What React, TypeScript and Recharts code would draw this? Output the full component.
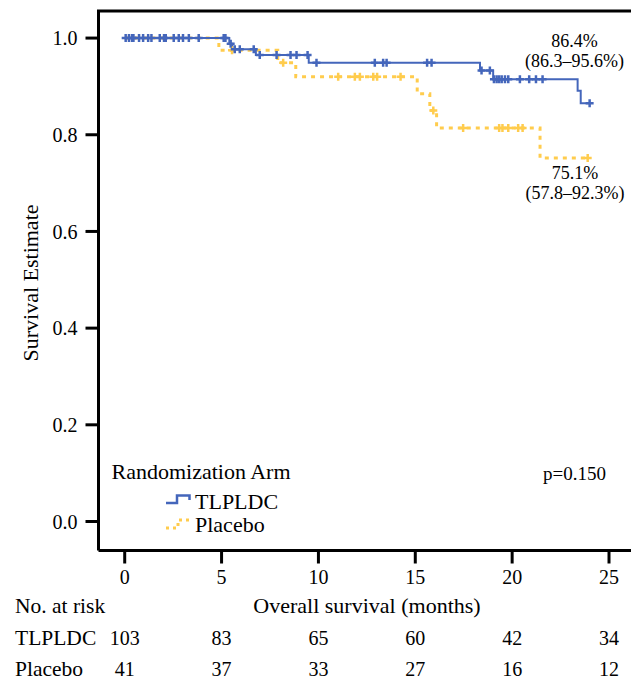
import React from 'react';
import { ComposedChart, Line, Scatter, XAxis, YAxis } from 'recharts';

const FONT = '"Liberation Serif", "Times New Roman", serif';
const BLUE = '#4466BB';
const GOLD = '#FFCC4D';

// Kaplan-Meier steps (time in months, survival estimate)
const tlpldcTimes = [0, 5.4, 5.55, 6.77, 9.5, 18.34, 19.02, 23.38, 23.54, 24.0];
const tlpldcSurv = [1, 0.988, 0.977, 0.965, 0.949, 0.933, 0.915, 0.891, 0.865, 0.865];
const placeboTimes = [0, 4.86, 7.9, 8.83, 15.1, 15.75, 16.1, 21.44, 23.9];
const placeboSurv = [1, 0.975, 0.949, 0.92, 0.885, 0.85, 0.814, 0.752, 0.752];

// censored observations
const tlpldcCensor = [
  0.05, 0.22, 0.38, 0.45, 0.74, 0.95, 1.21, 1.38, 1.81, 2.03, 2.12, 2.53, 2.79, 3.01, 3.31,
  3.82, 5.11, 5.2, 5.47, 5.68, 5.94, 6.66, 6.97, 7.84, 8.56, 8.87, 9.44, 9.9, 12.91, 13.34,
  13.52, 15.61, 15.84, 18.42, 18.85, 19.06, 19.2, 19.33, 19.46, 19.63, 19.8, 20.4, 20.88,
  21.23, 21.57, 24.0,
];
const placeboCensor = [
  5.54, 8.18, 11.02, 11.88, 12.14, 12.83, 13.03, 14.24, 15.93, 17.47, 19.33, 19.5, 19.8,
  20.31, 20.54, 23.9,
];

// number at risk table
const riskTimes = [0, 5, 10, 15, 20, 25];
const tlpldcRisk = [103, 83, 65, 60, 42, 34];
const placeboRisk = [41, 37, 33, 27, 16, 12];

const yTicks = [0, 0.2, 0.4, 0.6, 0.8, 1.0];

const survAt = (times: number[], surv: number[], t: number) => {
  let v = surv[0];
  times.forEach((tt, i) => {
    if (tt <= t) v = surv[i];
  });
  return v;
};

const tlpldcLine = tlpldcTimes.map((t, i) => ({ t, s: tlpldcSurv[i] }));
const placeboLine = placeboTimes.map((t, i) => ({ t, s: placeboSurv[i] }));
const tlpldcMarks = tlpldcCensor.map(t => ({ t, s: survAt(tlpldcTimes, tlpldcSurv, t) }));
const placeboMarks = placeboCensor.map(t => ({ t, s: survAt(placeboTimes, placeboSurv, t) }));

const Cross = ({ cx, cy, color, w }: any) => (
  <path d={`M${cx - 4},${cy}H${cx + 4}M${cx},${cy - 4}V${cy + 4}`} stroke={color} strokeWidth={w} fill="none" />
);

// x tick label plus the at-risk numbers underneath it
const RiskTick = ({ x, y, payload }: any) => {
  const i = riskTimes.indexOf(payload.value);
  return (
    <g fontFamily={FONT} fontSize={20} fill="#000" textAnchor="middle">
      <text x={x} y={y + 18}>{payload.value}</text>
      <text x={x} y={y + 79.5}>{tlpldcRisk[i]}</text>
      <text x={x} y={y + 110.5}>{placeboRisk[i]}</text>
    </g>
  );
};

export default function App() {
  return (
    <div style={{ position: 'absolute', left: 0, top: 0, width: 631, height: 682, overflow: 'hidden', background: '#fff' }}>
      <ComposedChart width={640} height={682} margin={{ top: 11, right: 0, bottom: 101.5, left: 0 }}>
        <XAxis
          type="number"
          dataKey="t"
          domain={[-1.353, 26.6]}
          ticks={riskTimes}
          allowDataOverflow
          height={30}
          tickSize={13}
          tickMargin={2}
          axisLine={{ stroke: '#000', strokeWidth: 3 }}
          tickLine={{ stroke: '#000', strokeWidth: 3 }}
          tick={<RiskTick />}
        />
        <YAxis
          type="number"
          dataKey="s"
          domain={[-0.06, 1.056]}
          ticks={yTicks}
          allowDataOverflow
          width={98.5}
          tickSize={13}
          tickMargin={8}
          tickFormatter={(v: number) => v.toFixed(1)}
          axisLine={{ stroke: '#000', strokeWidth: 3 }}
          tickLine={{ stroke: '#000', strokeWidth: 3 }}
          tick={{ fill: '#000', fontSize: 20, fontFamily: FONT }}
        />
        <Line data={placeboLine} dataKey="s" type="stepAfter" stroke={GOLD} strokeWidth={3} strokeDasharray="4 5" dot={false} isAnimationActive={false} />
        <Line data={tlpldcLine} dataKey="s" type="stepAfter" stroke={BLUE} strokeWidth={2} dot={false} isAnimationActive={false} />
        <Scatter data={placeboMarks} dataKey="s" shape={(p: any) => <Cross {...p} color={GOLD} w={2.5} />} isAnimationActive={false} />
        <Scatter data={tlpldcMarks} dataKey="s" shape={(p: any) => <Cross {...p} color={BLUE} w={2.5} />} isAnimationActive={false} />
      </ComposedChart>
      <svg width={631} height={682} style={{ position: 'absolute', left: 0, top: 0, pointerEvents: 'none' }} fontFamily={FONT} fill="#000">
        <line x1={97} y1={11} x2={631} y2={11} stroke="#000" strokeWidth={3} />
        <text x={38} y={283} fontSize={22} textAnchor="middle" transform="rotate(-90 38 283)">Survival Estimate</text>
        <text x={574.5} y={47} fontSize={18} textAnchor="middle">86.4%</text>
        <text x={574.5} y={67} fontSize={18} textAnchor="middle">(86.3–95.6%)</text>
        <text x={575} y={179} fontSize={18} textAnchor="middle">75.1%</text>
        <text x={575} y={199} fontSize={18} textAnchor="middle">(57.8–92.3%)</text>
        <text x={543} y={480} fontSize={19}>p=0.150</text>
        <text x={111.5} y={479} fontSize={22}>Randomization Arm</text>
        <path d="M166,503H177V495.5H189.5V500" stroke={BLUE} strokeWidth={2.5} fill="none" />
        <text x={195} y={509} fontSize={22}>TLPLDC</text>
        <path d="M166,528H178V520H190" stroke={GOLD} strokeWidth={3} strokeDasharray="3 4" fill="none" />
        <text x={195} y={532} fontSize={22}>Placebo</text>
        <text x={15} y={613} fontSize={21.5}>No. at risk</text>
        <text x={367} y={613} fontSize={22} textAnchor="middle">Overall survival (months)</text>
        <text x={15} y={645} fontSize={21.5}>TLPLDC</text>
        <text x={15} y={676} fontSize={21.5}>Placebo</text>
      </svg>
    </div>
  );
}
